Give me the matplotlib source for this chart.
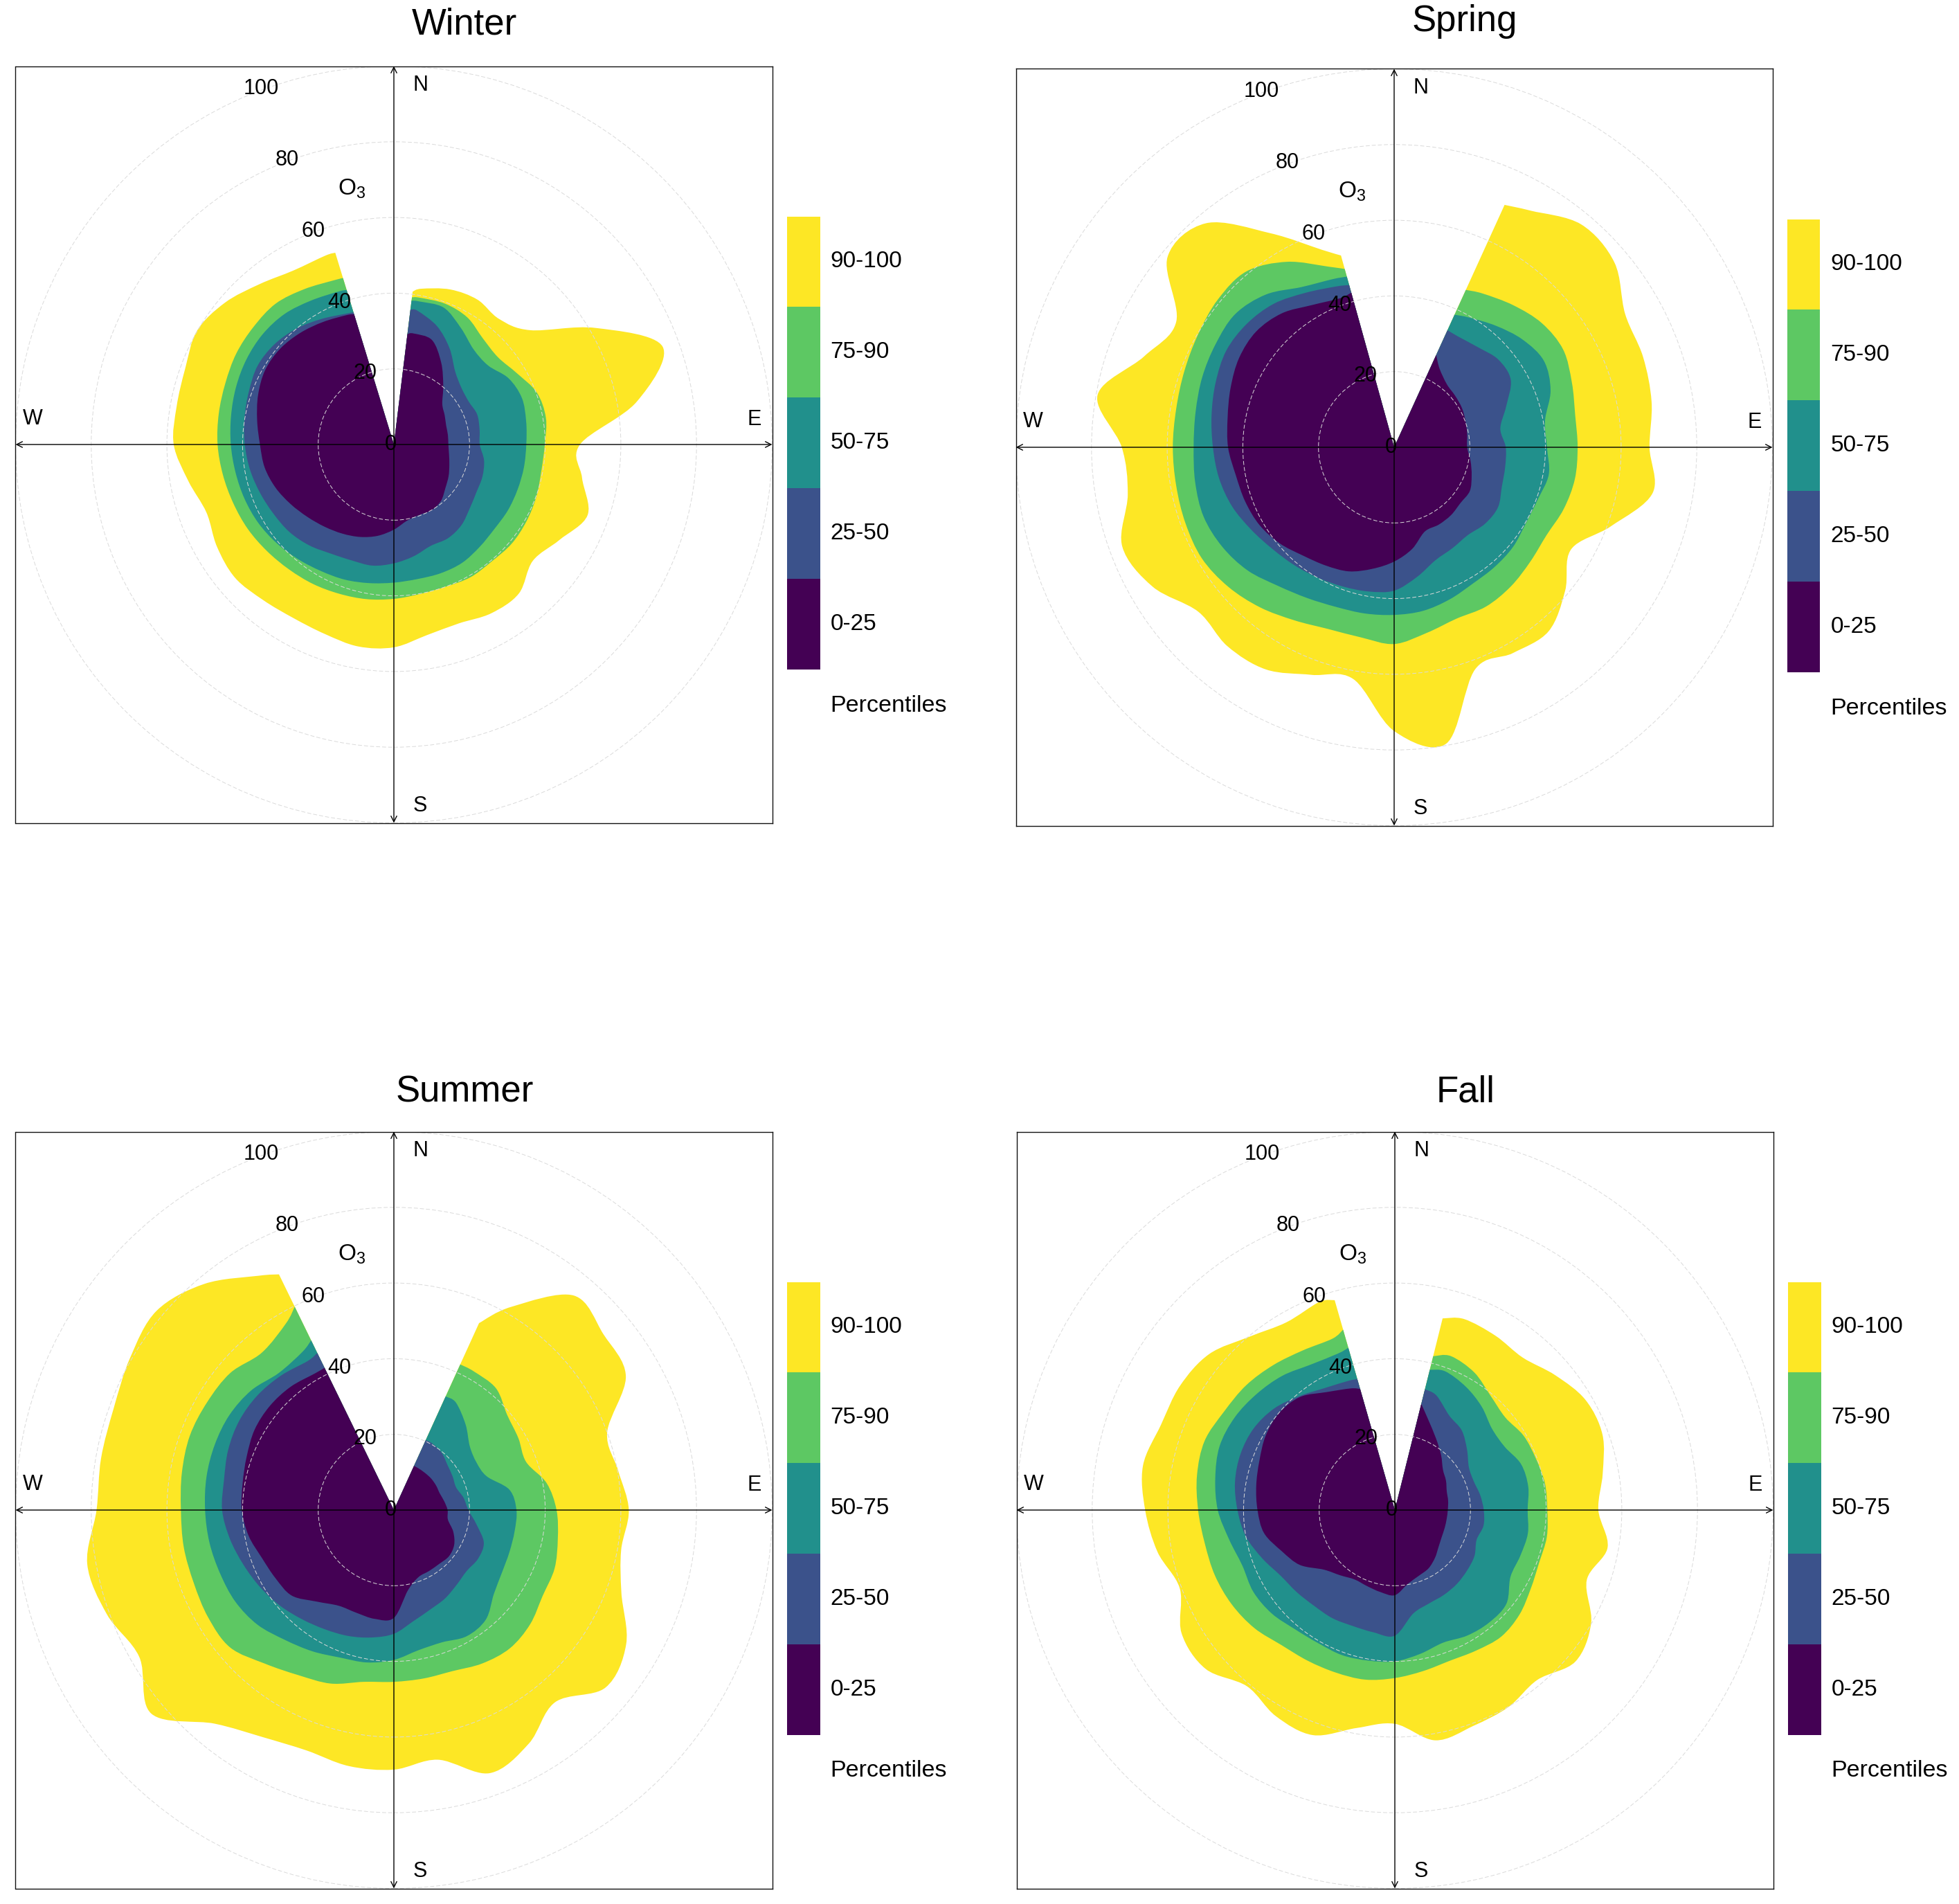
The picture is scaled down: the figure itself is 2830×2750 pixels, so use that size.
import numpy as np
import matplotlib
matplotlib.use("Agg")
import matplotlib.pyplot as plt
from matplotlib.path import Path
from matplotlib.patches import PathPatch, Circle

plt.rcParams['font.family'] = ['Liberation Sans', 'DejaVu Sans']
plt.rcParams['mathtext.fontset'] = 'custom'
plt.rcParams['mathtext.rm'] = 'Liberation Sans'

# ---- data: percentile radii of O3 by wind direction (degrees) ----
winter_dir = [7] + list(range(10, 341, 10)) + [343]
winter_p100 = [40.7, 41.8, 43.6, 44.2, 43.3, 47, 61.6, 75.6, 65.2, 49.2, 50.5, 54.5, 50.5, 47.9, 51.4, 51.5, 50.3, 51.1,
               53.6, 54.2, 53.3, 53, 53.7, 54.8, 54, 52.7, 55.2, 58.2, 58.3, 58.7, 60.1, 58.3, 55.3, 53.1, 53.1, 53]
winter_p90 = [39.2, 39.4, 39.6, 38.8, 36.6, 35.9, 37.6, 40.2, 40.8, 39.9, 39.6, 40.1, 40.5, 40.7, 40.3, 40.5, 40, 40.1,
              40.8, 41.5, 42, 42.6, 43.1, 43.8, 44.6, 45.2, 45.9, 46.6, 47, 47.4, 48.1, 48.4, 48.6, 47.4, 46.2, 46]
winter_p75 = [38.3, 38.4, 38.5, 35.5, 32.8, 32.5, 35, 36, 35.5, 35, 34.9, 34.8, 34.8, 34.7, 35.3, 36.1, 36.2, 36.1,
              36.5, 37.2, 38, 38.6, 39.5, 40.5, 41.4, 42, 42.5, 43.1, 43.7, 44.4, 45, 45.3, 45, 43.9, 43, 42.7]
winter_p50 = [35.9, 35.9, 33.3, 29.4, 25.2, 23.3, 22.8, 23.4, 23, 22.7, 24.2, 24.9, 25.2, 26.2, 27.8, 28.6, 28.5, 30,
              31.4, 32.5, 32.6, 33.3, 34.8, 36, 36.7, 37.6, 38.6, 39.4, 40.1, 40.8, 41.6, 41.2, 40, 38.3, 36.8, 36.5]
winter_p25 = [29.4, 29.8, 29.4, 25, 20.3, 16.7, 15.5, 14.7, 14.5, 14.4, 14.8, 15.6, 16.7, 17.8, 19.4, 20, 19.8, 20.4,
              22.5, 24.5, 26, 27.2, 28.4, 29.8, 31.5, 33.3, 34.7, 35.4, 36.7, 38.2, 39.3, 39.3, 38.5, 37.4, 36.4, 36]

spring_dir = [24.5] + list(range(30, 341, 10)) + [344.5]
spring_p100 = [70.4, 72.2, 76.9, 76, 70.5, 70, 69.1, 67.5, 69.4, 61, 54, 59, 63.5, 62.8, 62.5, 79.5, 75,
               62.2, 64, 67.8, 68.6, 67.6, 73.7, 76.5, 71.5, 72, 79.6, 70.3, 66.5, 78.2, 77.3, 65.3, 55.5, 52.6]
spring_p90 = [45.7, 46.9, 49, 51, 51.6, 50, 48.6, 48.5, 48.5, 47.7, 46.5, 47, 48, 48.6, 48.2, 49.8, 52,
              51, 51.1, 52.8, 55.2, 57.3, 58.7, 58.7, 58.5, 58.5, 58.5, 59, 59.8, 60.8, 60.7, 56.6, 50.8, 48.9]
spring_p75 = [38.5, 39.6, 41.9, 44.3, 45.7, 44, 40.5, 40.4, 41.5, 40.4, 40.2, 41, 41.3, 41.6, 42.8, 43.9, 44.3,
              44.6, 44.9, 46, 47.8, 50.6, 52.5, 53.6, 53.4, 53, 53.3, 54, 54.5, 54.8, 52.7, 48.9, 47.3, 46.8]
spring_p50 = [34, 33.8, 34.5, 36, 35.6, 31.5, 28.5, 29.5, 29.8, 30.3, 31.7, 31.4, 30.3, 30.8, 31.8, 34.8, 37.9,
              38.7, 39.2, 39.9, 40.8, 41.9, 43.6, 45.6, 47, 47.9, 49, 50.2, 51.2, 50.8, 49.5, 47.1, 45.2, 44.5]
spring_p25 = [26.8, 24, 21.7, 21.1, 20.7, 20.1, 19.6, 19.3, 20.5, 21.8, 23.1, 22.9, 23.4, 23.6, 23.7, 27.3, 30.2,
              32.6, 34.9, 36.1, 37.4, 39.5, 41.1, 41.9, 42.5, 43.9, 44.7, 46, 47.3, 47.6, 46.2, 43.4, 41.9, 42.4]

summer_dir = [24.5] + list(range(30, 331, 10)) + [334]
summer_p100 = [54.3, 62, 74, 72.3, 70.8, 60, 60.2, 62.1, 61, 64, 70.9, 73, 66.3, 71.3, 74, 67, 68.6,
               68.7, 67.6, 69.3, 73.7, 83.7, 77.7, 80.7, 82.3, 78.6, 78.6, 78.8, 80.5, 81.9, 78, 71.5, 69.3]
summer_p90 = [42.3, 42.3, 42, 39.1, 38, 37.2, 41, 43, 44, 45.2, 45.4, 47, 47.7, 46.8, 45.3, 45.2, 45.4,
              46.1, 48.8, 50.4, 53, 56.5, 56.7, 56.3, 56.4, 56.3, 56.9, 57.4, 57, 56.4, 54.3, 57, 59.8]
summer_p75 = [33, 32.8, 29.5, 26.2, 25.2, 26.1, 31, 32.4, 32.4, 32.5, 33, 34.5, 37.8, 38.5, 37.2, 37.6, 39.6,
              40.9, 41.5, 43.1, 44.8, 47.1, 48.4, 48.9, 49.5, 49.9, 50.3, 50.4, 50.2, 49.2, 47.3, 48.3, 49.9]
summer_p50 = [20.3, 20.3, 19.7, 18.5, 17.9, 17.5, 18.7, 19.7, 22.2, 25.3, 25.7, 25.1, 25.8, 27, 28, 29.8, 32.7,
              34.2, 35.4, 36.4, 37.7, 39.3, 40.8, 42.3, 44, 45.4, 45.6, 46.6, 47.2, 47.1, 46.4, 45.5, 46.2]
summer_p25 = [12.8, 12.8, 12.8, 12.9, 12.9, 12.9, 13.5, 14.2, 14.5, 16.7, 18.4, 19, 18.6, 18.6, 18.9, 21.5, 28.5,
              29.2, 28.9, 29.2, 31.6, 35.2, 36.1, 37.1, 39, 40.2, 40.6, 41.4, 42.5, 42.8, 42.5, 41.7, 41.8]

fall_dir = [14] + list(range(20, 341, 10)) + [344]
fall_p100 = [52.2, 53.7, 53.2, 52.6, 55.4, 58.2, 58.4, 55.8, 53.8, 57.1, 54, 59.9, 62.3, 58.6, 60.1, 60.7, 61.8, 56.5,
             58.5, 63.3, 62.9, 60.8, 65.3, 65.1, 60.5, 63.7, 66, 67.6, 65.8, 65.6, 64.1, 59.8, 57.3, 58.5, 57.7]
fall_p90 = [41.9, 43.3, 42, 39.4, 38.1, 39.3, 39.7, 40.3, 40.3, 40.8, 40.6, 41.5, 43, 43.7, 42.9, 42.4, 43.2, 44.4,
            45.5, 45.7, 46, 46.6, 48.5, 49.8, 50.6, 51, 52, 53.1, 53.5, 52.1, 51.3, 50, 48.7, 48.2, 49.6]
fall_p75 = [38.2, 39, 37.6, 35.7, 33.5, 33.5, 35.5, 35.8, 35.1, 35.7, 35.3, 35.3, 38.5, 38.8, 38.3, 37.3, 38.6, 40,
            40.4, 40.8, 40.6, 41.1, 42.5, 43.2, 42.9, 44.5, 46.8, 48.2, 49.3, 48.9, 47.7, 46.3, 44.4, 44, 44.6]
fall_p50 = [32.9, 32.2, 28.8, 27.5, 24.9, 22.6, 22.2, 22.9, 23.5, 23.8, 23, 24.3, 24.9, 25.5, 25.9, 26.3, 27.8, 33.2,
            32.8, 32.6, 33, 33.1, 33.8, 34.8, 37.3, 40, 41.6, 42.9, 43.4, 43.1, 41.7, 39.3, 37.2, 36.3, 36]
fall_p25 = [28.9, 25.6, 21.8, 19, 16.6, 15.6, 14.6, 14.3, 14, 13.9, 14, 14.3, 15.1, 16.5, 17.8, 18.5, 19.8, 22.5,
            22, 21.4, 21.2, 22.5, 24.5, 29, 31.8, 35.1, 36.3, 37.2, 38.1, 39.4, 39.9, 39, 36, 34.2, 33.3]

seasons = ['Winter', 'Spring', 'Summer', 'Fall']
band_labels = ['0-25', '25-50', '50-75', '75-90', '90-100']
band_colors = ['#440154', '#3B528B', '#21908C', '#5DC863', '#FDE725']
ring_values = [20, 40, 60, 80, 100]

season_data = {
    'Winter': (winter_dir, [winter_p25, winter_p50, winter_p75, winter_p90, winter_p100]),
    'Spring': (spring_dir, [spring_p25, spring_p50, spring_p75, spring_p90, spring_p100]),
    'Summer': (summer_dir, [summer_p25, summer_p50, summer_p75, summer_p90, summer_p100]),
    'Fall': (fall_dir, [fall_p25, fall_p50, fall_p75, fall_p90, fall_p100]),
}

# ---- layout (pixels in a 2830 x 2750 image) ----
W, H = 2830, 2750
centers = {'Winter': (569, 642), 'Spring': (2014, 646), 'Summer': (569, 2181), 'Fall': (2015, 2181)}
title_base = {'Winter': 50, 'Spring': 45, 'Summer': 1591, 'Fall': 1591}
HALF = 546.5  # half width of box in px (= 100 units)


def rose_path(dirs, radii):
    # closed shape: smooth outline through the sector values, then back to the centre
    th = np.deg2rad(np.asarray(dirs, float))
    r = np.asarray(radii, float)
    P = np.column_stack([r * np.sin(th), r * np.cos(th)])
    n = len(P)
    verts = [P[0]]
    codes = [Path.MOVETO]
    for i in range(n - 1):
        p0 = P[max(i - 1, 0)]
        p1 = P[i]
        p2 = P[i + 1]
        p3 = P[min(i + 2, n - 1)]
        verts += [p1 + (p2 - p0) / 6.0, p2 - (p3 - p1) / 6.0, p2]
        codes += [Path.CURVE4] * 3
    verts += [(0, 0), (0, 0)]
    codes += [Path.LINETO, Path.CLOSEPOLY]
    return Path(verts, codes)


fig = plt.figure(figsize=(W / 100, H / 100), dpi=100)

for season in seasons:
    cx, cy = centers[season]
    dirs, bands = season_data[season]
    left = (cx - HALF) / W
    bottom = 1 - (cy + HALF) / H
    ax = fig.add_axes([left, bottom, 2 * HALF / W, 2 * HALF / H])
    ax.set_xlim(-100, 100)
    ax.set_ylim(-100, 100)
    ax.set_xticks([])
    ax.set_yticks([])
    for sp in ax.spines.values():
        sp.set_linewidth(1.0)
        sp.set_color('#111111')

    # outer band first, inner bands painted on top
    for radii, col in zip(bands[::-1], band_colors[::-1]):
        ax.add_patch(PathPatch(rose_path(dirs, radii), facecolor=col, edgecolor='none', zorder=1))

    for rv in ring_values:
        ax.add_patch(Circle((0, 0), rv, fill=False, edgecolor='#DADADA', lw=0.7,
                            linestyle=(0, (6, 3)), zorder=2))

    ax.annotate('', xy=(0, 100), xytext=(0, -100),
                arrowprops=dict(arrowstyle='<->', lw=1.0, color='black', shrinkA=0, shrinkB=0,
                                mutation_scale=15), zorder=3)
    ax.annotate('', xy=(100, 0), xytext=(-100, 0),
                arrowprops=dict(arrowstyle='<->', lw=1.0, color='black', shrinkA=0, shrinkB=0,
                                mutation_scale=15), zorder=3)

    lab_ang = np.deg2rad(340)
    for rv in [0] + ring_values:
        ax.text(rv * np.sin(lab_ang) - 0.8, rv * np.cos(lab_ang), str(rv), fontsize=22,
                ha='center', va='center', zorder=4)
    ax.text(-11.2, 67.5, r'$\mathrm{O}_3$', fontsize=24, ha='center', va='center', zorder=4)
    ax.text(7, 95, 'N', fontsize=22, ha='center', va='center')
    ax.text(7, -95.6, 'S', fontsize=22, ha='center', va='center')
    ax.text(-95.4, 6.8, 'W', fontsize=22, ha='center', va='center')
    ax.text(95.2, 6.6, 'E', fontsize=22, ha='center', va='center')

    # title
    fig.text((cx + 102) / W, 1 - title_base[season] / H, season, fontsize=38,
             ha='center', va='baseline')

    # colour key
    box_top = cy - HALF
    box_right = cx + HALF
    cb_top = box_top + 217
    seg = 130.9
    cax = fig.add_axes([(box_right + 21) / W, 1 - (cb_top + 5 * seg) / H, 48 / W, 5 * seg / H])
    cax.bar(np.zeros(5), np.ones(5), bottom=np.arange(5), width=1, color=band_colors,
            align='center', linewidth=0)
    cax.set_xlim(-0.5, 0.5)
    cax.set_ylim(0, 5)
    cax.axis('off')
    for i, lab in enumerate(band_labels):
        yc = cb_top + (4 - i + 0.5) * seg
        fig.text((box_right + 84) / W, 1 - yc / H, lab, fontsize=24, ha='left', va='center')
    fig.text((box_right + 84) / W, 1 - (cb_top + 5 * seg + 52) / H, 'Percentiles',
             fontsize=24.5, ha='left', va='center')

fig.savefig('out.png', dpi=100, facecolor='white')
